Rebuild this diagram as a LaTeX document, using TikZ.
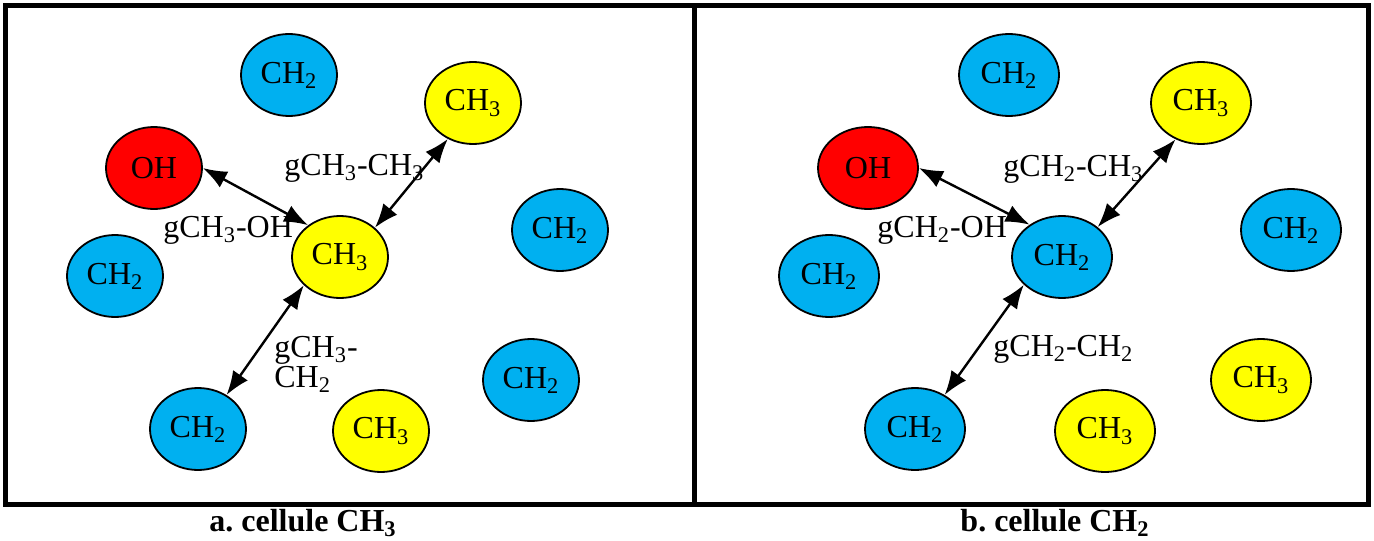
\documentclass[tikz,border=0pt]{standalone}
\usepackage{fontspec}
\setmainfont{Liberation Serif}[BoldFont={Liberation Serif Bold}]
\usepackage{xcolor}
\usetikzlibrary{shapes,arrows,positioning,arrows.meta}

\definecolor{groupblue}{HTML}{00B0F0}
\definecolor{groupyellow}{HTML}{FFFF00}
\definecolor{groupred}{HTML}{FF0000}

\newcommand{\CHtwo}{CH\textsubscript{2}}
\newcommand{\CHthree}{CH\textsubscript{3}}

\begin{document}
\begin{tikzpicture}[x=0.5pt, y=-0.5pt, font=\fontsize{16}{15}\selectfont]
    % Styles
    \tikzstyle{bead} = [draw, ellipse, line width=0.9pt, minimum width=48pt, minimum height=41pt, inner sep=0pt]
    \tikzstyle{ch2} = [bead, fill=groupblue]
    \tikzstyle{ch3} = [bead, fill=groupyellow]
    \tikzstyle{oh} = [bead, fill=groupred]
    \tikzstyle{wide} = [minimum width=50pt]
    \tikzstyle{rdf} = [{Latex[length=12pt,width=9pt]}-{Latex[length=12pt,width=9pt]}, line width=1.2pt]
    \tikzstyle{pair} = [anchor=base west, align=left, inner sep=0pt]
    \tikzstyle{caption} = [anchor=base, font=\fontsize{16}{15}\selectfont\bfseries, inner sep=0pt]
    \tikzstyle{frame} = [line width=2.5pt]

    \useasboundingbox (0,0) rectangle (1374,540);

    % Cells
    \draw [frame] (5.5,6) rectangle (694.5,504.5);
    \draw [frame] (694.5,6) rectangle (1368.5,504.5);

    % Cell a: centred on a CH3
    \node [ch2] (A1) at (289,75) {\CHtwo};
    \node [ch3] (AMe) at (473,103) {\CHthree};
    \node [oh] (AOH) at (154,168) {OH};
    \node [ch3] (ACen) at (340,257) {\CHthree};
    \node [ch2] (A2) at (115,276) {\CHtwo};
    \node [ch2] (A3) at (560,230) {\CHtwo};
    \node [ch2] (ANb) at (198,429) {\CHtwo};
    \node [ch3] (A4) at (381,431) {\CHthree};
    \node [ch2] (A5) at (531,380) {\CHtwo};

    % Cell b: centred on a CH2
    \node [ch2, wide] (B1) at (1009,75) {\CHtwo};
    \node [ch3, wide] (BMe) at (1201,103) {\CHthree};
    \node [oh, wide] (BOH) at (868,168) {OH};
    \node [ch2, wide] (BCen) at (1062,257) {\CHtwo};
    \node [ch2, wide] (B2) at (829,276) {\CHtwo};
    \node [ch2, wide] (B3) at (1291,230) {\CHtwo};
    \node [ch2, wide] (BNb) at (915,429) {\CHtwo};
    \node [ch3, wide] (B4) at (1105,431) {\CHthree};
    \node [ch3, wide] (B5) at (1261,380) {\CHthree};

    % Pair functions
    \draw [rdf] (AOH.east) -- (ACen.135);
    \draw [rdf] (AMe.235) -- (ACen.40);
    \draw [rdf] (ACen.218) -- (ANb.50);
    \draw [rdf] (BOH.east) -- (BCen.135);
    \draw [rdf] (BMe.235) -- (BCen.40);
    \draw [rdf] (BCen.216) -- (BNb.49);

    \node [pair] (AlMe) at (284,175) {g\CHthree-\CHthree};
    \node [pair] (AlOH) at (163,237) {g\CHthree-OH};
    \node [pair] (AlNb) at (274,387) {g\CHthree-\\\CHtwo};
    \node [pair] (BlMe) at (1003,176) {g\CHtwo-\CHthree};
    \node [pair] (BlOH) at (877,237) {g\CHtwo-OH};
    \node [pair] (BlNb) at (993,356) {g\CHtwo-\CHtwo};

    % Captions
    \node [caption] (CapA) at (303,531) {a.\ cellule \CHthree};
    \node [caption] (CapB) at (1055,531) {b.\ cellule \CHtwo};
\end{tikzpicture}
\end{document}
